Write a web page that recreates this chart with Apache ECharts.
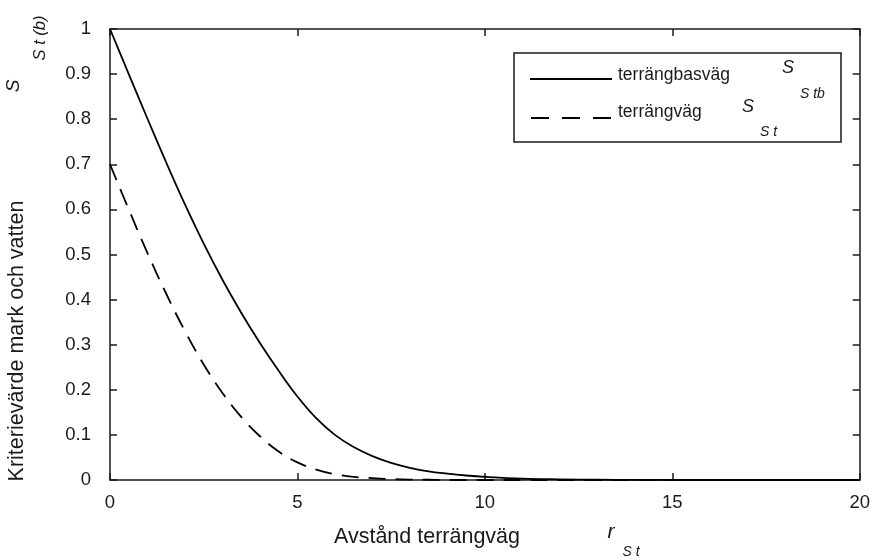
<!DOCTYPE html>
<html>
<head>
<meta charset="utf-8">
<script src="https://cdn.jsdelivr.net/npm/echarts@6/dist/echarts.min.js"></script>
<style>
  html, body { margin: 0; padding: 0; background: #fff; }
  #chart { width: 873px; height: 559px; }
</style>
</head>
<body>
<div id="chart"></div>
<script>
// Distance along the road (x) and the two criterion curves
const distance = [0, 0.5, 1, 1.5, 2, 2.5, 3, 3.5, 4, 4.5, 5, 5.5, 6, 6.5, 7, 7.5, 8, 8.5, 9, 9.5, 10, 11, 12, 13, 14, 15, 16, 17, 18, 19, 20];
const basvag = [1.0, 0.900, 0.801, 0.704, 0.611, 0.524, 0.444, 0.371, 0.304, 0.242, 0.185, 0.137, 0.100, 0.073, 0.053, 0.038, 0.027, 0.019, 0.014, 0.010, 0.007, 0.003, 0.0015, 0.0007, 0.0003, 0, 0, 0, 0, 0, 0];
const terrangvag = [0.70, 0.600, 0.503, 0.413, 0.330, 0.256, 0.193, 0.140, 0.097, 0.063, 0.039, 0.023, 0.013, 0.007, 0.004, 0.002, 0.001, 0.0005, 0, 0, 0, 0, 0, 0, 0, 0, 0, 0, 0, 0, 0];
const xTicks = { min: 0, max: 20, interval: 5 };
const yTicks = { min: 0, max: 1, interval: 0.1 };

const FONT = '"Liberation Sans", Arial, Helvetica, sans-serif';
const INK = '#1a1a1a';

const chart = echarts.init(document.getElementById('chart'), null, { renderer: 'canvas' });

function axisCommon(showLabel, margin) {
  return {
    axisLine: { show: true, onZero: false, lineStyle: { color: INK, width: 1.5 } },
    axisTick: { show: true, inside: true, length: 7, lineStyle: { color: INK, width: 1.5 } },
    axisLabel: { show: showLabel, color: INK, fontSize: 18.5, fontFamily: FONT, margin: margin },
    splitLine: { show: false }
  };
}

function text(x, y, str, size, opts) {
  opts = opts || {};
  return {
    type: 'text',
    x: x, y: y,
    rotation: opts.rotation || 0,
    silent: true,
    style: {
      text: str,
      font: (opts.italic ? 'italic ' : '') + size + 'px ' + FONT,
      fill: INK,
      textAlign: opts.align || 'left',
      textVerticalAlign: 'middle'
    }
  };
}

const option = {
  animation: false,
  backgroundColor: '#fff',
  grid: { left: 110, right: 10, top: 29, bottom: 79, containLabel: false },
  xAxis: [
    Object.assign({ type: 'value', position: 'bottom' }, xTicks, axisCommon(true, 13)),
    Object.assign({ type: 'value', position: 'top' }, xTicks, axisCommon(false, 13))
  ],
  yAxis: [
    Object.assign({ type: 'value', position: 'left' }, yTicks, axisCommon(true, 19)),
    Object.assign({ type: 'value', position: 'right' }, yTicks, axisCommon(false, 19))
  ],
  series: [
    {
      name: 'terrängbasväg',
      type: 'line',
      xAxisIndex: 0, yAxisIndex: 0,
      data: distance.map((d, i) => [d, basvag[i]]),
      showSymbol: false,
      smooth: 0.4,
      lineStyle: { color: '#000', width: 1.8 }
    },
    {
      name: 'terrängväg',
      type: 'line',
      xAxisIndex: 0, yAxisIndex: 0,
      data: distance.map((d, i) => [d, terrangvag[i]]),
      showSymbol: false,
      smooth: 0.4,
      lineStyle: { color: '#000', width: 1.8, type: [17, 10] }
    }
  ],
  graphic: [
    // legend box
    {
      type: 'rect', silent: true,
      shape: { x: 514, y: 53, width: 327, height: 89 },
      style: { fill: '#fff', stroke: INK, lineWidth: 1.5 }
    },
    {
      type: 'line', silent: true,
      shape: { x1: 530, y1: 79, x2: 612, y2: 79 },
      style: { stroke: '#000', lineWidth: 1.8 }
    },
    {
      type: 'line', silent: true,
      shape: { x1: 531, y1: 118, x2: 612, y2: 118 },
      style: { stroke: '#000', lineWidth: 1.8, lineDash: [18, 13] }
    },
    text(618, 75, 'terrängbasväg', 17.5),
    text(782, 68, 'S', 18, { italic: true }),
    text(800, 94, 'S tb', 14, { italic: true }),
    text(618, 112, 'terrängväg', 17.5),
    text(742, 107, 'S', 18, { italic: true }),
    text(760, 132, 'S t', 14, { italic: true }),

    // y-axis title
    text(17, 341, 'Kriterievärde mark och vatten', 21.5, { align: 'center', rotation: Math.PI / 2 }),
    text(14, 86, 'S', 19, { align: 'center', rotation: Math.PI / 2, italic: true }),
    text(40, 38, 'S t (b)', 16.5, { align: 'center', rotation: Math.PI / 2, italic: true }),

    // x-axis title
    text(427, 537, 'Avstånd terrängväg', 21.5, { align: 'center' }),
    text(611, 532, 'r', 21, { align: 'center', italic: true }),
    text(631, 552, 'S t', 14, { align: 'center', italic: true })
  ]
};

chart.setOption(option);
</script>
</body>
</html>
